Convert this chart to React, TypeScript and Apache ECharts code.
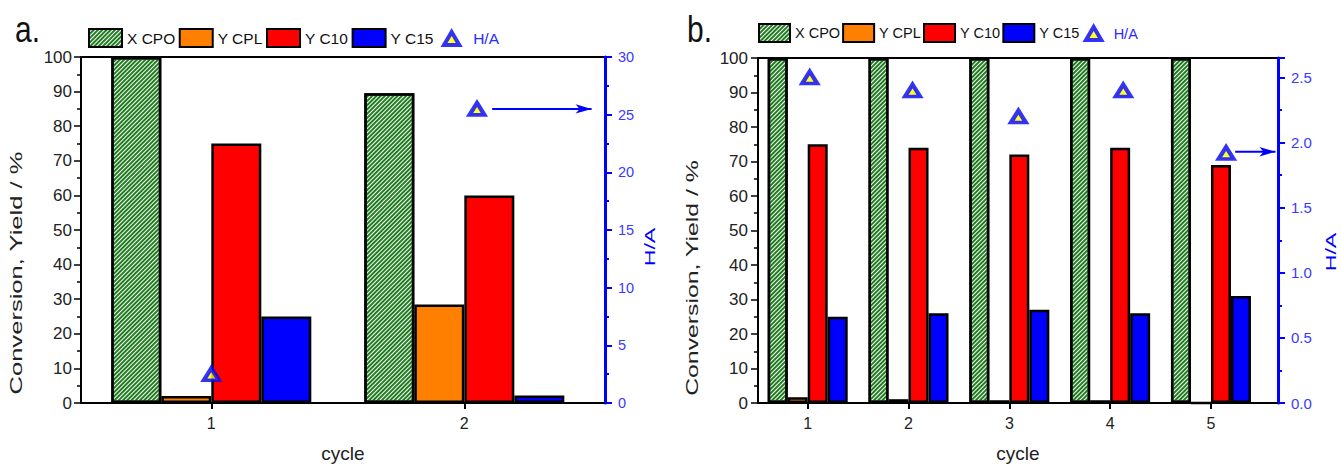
import React, { useEffect, useRef } from "react";
import * as echarts from "echarts";

const FONT = "'Liberation Sans', Arial, sans-serif";

const barNames = ["X CPO", "Y CPL", "Y C10", "Y C15"];
const haName = "H/A";
const barColors = ["#ffffff", "#ff8000", "#ff0000", "#0000ff"];
const leftTitle = "Conversion, Yield / %";
const xTitle = "cycle";

// Panel a
const cyclesA = [1, 2];
const xcpoA = [100, 89.5];
const ycplA = [2, 28.5];
const yc10A = [75, 60];
const yc15A = [25, 2.2];
const haXA = [1.0, 2.05];
const haA = [2.5, 25.5];
const arrowXA = [2.11, 2.503];
const arrowYA = [25.5, 25.5];

// Panel b
const cyclesB = [1, 2, 3, 4, 5];
const xcpoB = [100, 100, 100, 100, 100];
const ycplB = [1.7, 1.1, 0.8, 0.8, 0];
const yc10B = [75, 74, 72, 74, 69];
const yc15B = [25, 26, 27, 26, 31];
const haXB = [1.02, 2.04, 3.09, 4.13, 5.15];
const haB = [2.5, 2.4, 2.2, 2.4, 1.92];
const arrowXB = [5.24, 5.64];
const arrowYB = [1.93, 1.93];

const hatch = {
  symbol: "rect",
  symbolSize: 1,
  color: "#1f7d1f",
  dashArrayX: [1, 0],
  dashArrayY: [2, 1],
  rotation: -Math.PI / 4,
};

const triStyle = { color: "#ffff00", borderColor: "#0000ff", borderWidth: 4 };

function xAxisOpt(gridIndex: number, min: number, max: number, cycles: number[]) {
  return {
    type: "value",
    gridIndex,
    min,
    max,
    axisLine: { show: true, onZero: false, lineStyle: { color: "#000", width: 2 } },
    axisTick: {
      show: true,
      customValues: cycles,
      length: 6,
      lineStyle: { color: "#000", width: 2 },
    },
    axisLabel: { customValues: cycles, fontSize: 16, color: "#222", margin: 12, fontFamily: FONT },
    splitLine: { show: false },
    name: xTitle,
    nameLocation: "middle",
    nameGap: 41,
    nameTextStyle: { fontSize: 19, color: "#222", fontFamily: FONT },
  };
}

function leftAxisOpt(gridIndex: number, margin: number) {
  return {
    type: "value",
    gridIndex,
    position: "left",
    min: 0,
    max: 100,
    interval: 10,
    axisLine: { show: true, lineStyle: { color: "#000", width: 2 } },
    axisTick: { show: true, length: 7, lineStyle: { color: "#000", width: 1.5 } },
    minorTick: { show: true, splitNumber: 2, length: 4, lineStyle: { color: "#000", width: 1.5 } },
    axisLabel: { fontSize: 17, color: "#222", margin, fontFamily: FONT },
    splitLine: { show: false },
  };
}

function rightAxisOpt(gridIndex: number, max: number, interval: number, decimals: number, fontSize: number) {
  return {
    type: "value",
    gridIndex,
    position: "right",
    min: 0,
    max,
    interval,
    axisLine: { show: true, lineStyle: { color: "#0000ff", width: 3 } },
    axisTick: { show: true, length: 7, lineStyle: { color: "#0000ff", width: 2 } },
    minorTick: { show: true, splitNumber: 2, length: 4, lineStyle: { color: "#0000ff", width: 2 } },
    axisLabel: {
      fontSize,
      color: "#3a3aff",
      margin: 13,
      fontFamily: FONT,
      showMaxLabel: decimals === 0,
      formatter: (v: number) => v.toFixed(decimals),
    },
    splitLine: { show: false },
  };
}

function barSeries(axisIdx: number, cycles: number[], vals: number[][], width: number) {
  return vals.map((arr, k) => ({
    type: "bar",
    name: barNames[k],
    xAxisIndex: axisIdx,
    yAxisIndex: axisIdx * 2,
    barWidth: width,
    barGap: "0%",
    data: cycles.map((c, i) => [c, arr[i]]),
    itemStyle: {
      color: barColors[k],
      borderColor: "#000",
      borderWidth: 2.5,
      ...(k === 0 ? { decal: hatch } : {}),
    },
  }));
}

function haSeries(axisIdx: number, xs: number[], ys: number[]) {
  return {
    type: "scatter",
    name: haName,
    xAxisIndex: axisIdx,
    yAxisIndex: axisIdx * 2 + 1,
    symbol: "triangle",
    symbolSize: [15, 12],
    z: 5,
    data: xs.map((x, i) => [x, ys[i]]),
    itemStyle: triStyle,
  };
}

function arrowSeries(axisIdx: number, xs: number[], ys: number[]) {
  return {
    type: "line",
    xAxisIndex: axisIdx,
    yAxisIndex: axisIdx * 2 + 1,
    z: 5,
    silent: true,
    showAllSymbol: true,
    lineStyle: { color: "#0000ff", width: 2 },
    itemStyle: { color: "#0000ff" },
    data: xs.map((x, i) =>
      i === xs.length - 1
        ? { value: [x, ys[i]], symbol: "arrow", symbolSize: [7, 16], symbolRotate: -90 }
        : { value: [x, ys[i]], symbol: "none" }
    ),
  };
}

const triIcon = "path://M10,0L20,17L0,17Z";

function vText(text: string, x: number, y: number, color: string, fontSize: number, stretch: number) {
  return {
    type: "text",
    x,
    y,
    rotation: Math.PI / 2,
    scaleX: stretch,
    scaleY: 1,
    silent: true,
    style: { text, fontSize, fontFamily: FONT, fill: color, align: "center", verticalAlign: "middle" },
  };
}

function panelLabel(text: string, x: number) {
  return {
    type: "text",
    x,
    y: 29,
    scaleY: 1.25,
    silent: true,
    style: { text, fontSize: 30, fontFamily: FONT, fill: "#111", align: "left", verticalAlign: "middle" },
  };
}

export default function App() {
  const ref = useRef<HTMLDivElement>(null);
  useEffect(() => {
    if (!ref.current) return;
    const chart = echarts.init(ref.current, undefined, { renderer: "svg" });
    const option: any = {
      animation: false,
      backgroundColor: "#ffffff",
      textStyle: { fontFamily: FONT },
      graphic: [
        panelLabel("a.", 15),
        panelLabel("b.", 687),
        vText(leftTitle, 17, 273, "#222", 16, 1.6),
        vText(leftTitle, 692, 278, "#222", 16, 1.55),
        vText(haName, 650, 247, "#0000ff", 15, 1.55),
        vText(haName, 1331, 252, "#0000ff", 15, 1.55),
      ],
      legend: [
        {
          left: 88, top: 28, padding: 0, itemWidth: 33, itemHeight: 18, itemGap: 3.5, icon: "rect",
          data: barNames, textStyle: { fontSize: 15.5, color: "#111", fontFamily: FONT },
        },
        {
          left: 442, top: 30, padding: 0, itemWidth: 33, itemHeight: 13,
          itemStyle: triStyle,
          data: [{ name: haName, icon: triIcon, textStyle: { color: "#2a2aff" } }],
          textStyle: { fontSize: 15.5, color: "#2a2aff", fontFamily: FONT },
        },
        {
          left: 758, top: 23, padding: 0, itemWidth: 31, itemHeight: 18, itemGap: 2, icon: "rect",
          data: barNames, textStyle: { fontSize: 14.5, color: "#111", fontFamily: FONT },
        },
        {
          left: 1084, top: 25, padding: 0, itemWidth: 30, itemHeight: 13,
          itemStyle: triStyle,
          data: [{ name: haName, icon: triIcon, textStyle: { color: "#2a2aff" } }],
          textStyle: { fontSize: 14.5, color: "#2a2aff", fontFamily: FONT },
        },
      ],
      grid: [
        { left: 81, top: 57, width: 524, height: 355, show: true, borderColor: "#000", borderWidth: 2, backgroundColor: "transparent" },
        { left: 758, top: 58, width: 520, height: 355, show: true, borderColor: "#000", borderWidth: 2, backgroundColor: "transparent" },
      ],
      xAxis: [xAxisOpt(0, 0.485, 2.556, cyclesA), xAxisOpt(1, 0.507, 5.665, cyclesB)],
      yAxis: [
        leftAxisOpt(0, 9),
        rightAxisOpt(0, 30, 5, 0, 14.5),
        leftAxisOpt(1, 10),
        rightAxisOpt(1, 2.65, 0.5, 1, 15),
      ],
      series: [
        ...barSeries(0, cyclesA, [xcpoA, ycplA, yc10A, yc15A], 50),
        haSeries(0, haXA, haA),
        arrowSeries(0, arrowXA, arrowYA),
        ...barSeries(1, cyclesB, [xcpoB, ycplB, yc10B, yc15B], 20),
        haSeries(1, haXB, haB),
        arrowSeries(1, arrowXB, arrowYB),
      ],
    };
    chart.setOption(option);
    return () => chart.dispose();
  }, []);
  return <div ref={ref} style={{ position: "fixed", left: 0, top: 0, width: 1341, height: 468 }} />;
}
